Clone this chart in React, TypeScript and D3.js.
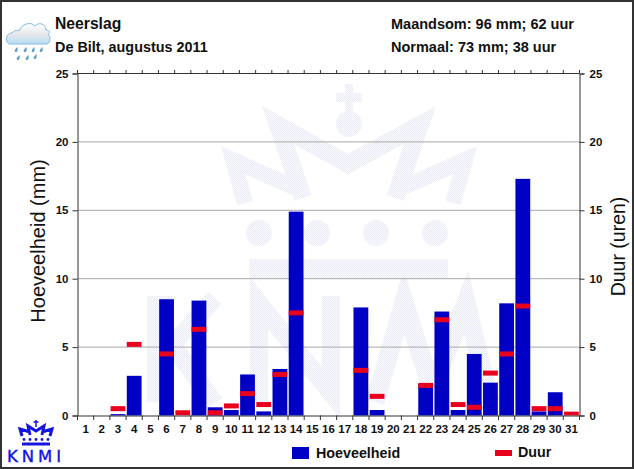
import React, { useEffect, useRef } from 'react';
import * as d3 from 'd3';

const days = d3.range(1, 32).map(String);
const hoeveelheid = [0, 0, 0.1, 2.9, 0, 8.5, 0, 8.4, 0.6, 0.4, 3.0, 0.3, 3.4, 14.9, 0, 0, 0, 7.9, 0.4, 0, 0, 2.3, 7.6, 0.4, 4.5, 2.4, 8.2, 17.3, 0.3, 1.7, 0];
const duur = [0, 0, 0.5, 5.2, 0, 4.5, 0.2, 6.3, 0.2, 0.7, 1.6, 0.8, 3.0, 7.5, 0, 0, 0, 3.3, 1.4, 0, 0, 2.2, 7.0, 0.8, 0.6, 3.1, 4.5, 8.0, 0.5, 0.5, 0.1];
const yTicks = [0, 5, 10, 15, 20, 25];

const FONT = "'Liberation Sans', Arial, sans-serif";
const BLUE = '#0000c4';
const RED = '#e8001c';
const LOGO = '#1414e0';

const Chart = () => {
  const svgRef = useRef<SVGSVGElement>(null);

  useEffect(() => {
    const svg = d3.select(svgRef.current);
    svg.selectAll('*').remove();

    const x = d3.scaleBand().domain(days).range([77.5, 579.5]);
    const y = d3.scaleLinear().domain([0, 25]).range([415.5, 73.5]);

    // frame
    svg.append('rect')
      .attr('x', 1).attr('y', 1).attr('width', 632).attr('height', 467)
      .attr('fill', '#fff').attr('stroke', '#333').attr('stroke-width', 2);

    // watermark
    const defs = svg.append('defs');
    const pat = defs.append('pattern')
      .attr('id', 'wm').attr('width', 2).attr('height', 2)
      .attr('patternUnits', 'userSpaceOnUse');
    pat.append('rect').attr('width', 2).attr('height', 2).attr('fill', '#f9f9fd');
    pat.append('rect').attr('width', 1).attr('height', 1).attr('fill', '#eaecf6');
    pat.append('rect').attr('x', 1).attr('y', 1).attr('width', 1).attr('height', 1).attr('fill', '#eaecf6');

    const wm = svg.append('g');
    const wmFill = 'url(#wm)';
    const thick = (d: string, w: number) =>
      wm.append('path').attr('d', d).attr('fill', 'none').attr('stroke', wmFill)
        .attr('stroke-width', w).attr('stroke-linejoin', 'miter');
    wm.append('rect').attr('x', 345).attr('y', 84).attr('width', 8).attr('height', 28).attr('fill', wmFill);
    wm.append('rect').attr('x', 336).attr('y', 93).attr('width', 26).attr('height', 9).attr('fill', wmFill);
    wm.append('circle').attr('cx', 349).attr('cy', 124).attr('r', 13).attr('fill', wmFill);
    thick('M303,198 L278,125 L348,164 L420,125 L395,198', 18);
    thick('M245,203 L233,160 L300,190', 16);
    thick('M453,203 L465,160 L397,190', 16);
    [259, 317, 376, 435].forEach(cx => {
      wm.append('circle').attr('cx', cx).attr('cy', 233).attr('r', 13).attr('fill', wmFill);
    });
    wm.append('rect').attr('x', 249).attr('y', 259).attr('width', 199).attr('height', 20).attr('fill', wmFill);
    thick('M160,296 L160,402', 26);
    thick('M215,298 L172,345 L215,403', 18);
    thick('M259,402 L259,303 L331,393 L331,296', 18);
    thick('M375,402 L404,302 L432,390 L466,302 L490,402', 19);
    thick('M523,296 L523,402', 16);

    // gridlines
    svg.append('g').selectAll('line')
      .data(yTicks.filter(d => d > 0 && d < 25))
      .join('line')
      .attr('x1', x.range()[0]).attr('x2', x.range()[1])
      .attr('y1', d => y(d)).attr('y2', d => y(d))
      .attr('stroke', '#a8a8a8').attr('stroke-width', 1);

    // bars
    svg.append('g').selectAll('rect')
      .data(hoeveelheid)
      .join('rect')
      .attr('x', (_, i) => x(days[i])! + 0.7)
      .attr('width', x.bandwidth() - 1.4)
      .attr('y', d => y(d))
      .attr('height', d => y(0) - y(d))
      .attr('fill', BLUE);

    // duur markers
    svg.append('g').selectAll('rect')
      .data(duur)
      .join('rect')
      .attr('x', (_, i) => x(days[i])! + 0.7)
      .attr('width', x.bandwidth() - 1.4)
      .attr('y', d => y(d) - 2.5)
      .attr('height', d => Math.min(5, y(0) - y(d) + 2.5))
      .attr('fill', RED)
      .attr('display', d => (d > 0 ? null : 'none'));

    // axes
    const left = svg.append('g').attr('transform', 'translate(77.5,0)')
      .call(d3.axisLeft(y).tickValues(yTicks).tickSize(5).tickPadding(4));
    const right = svg.append('g').attr('transform', 'translate(579.5,0)')
      .call(d3.axisRight(y).tickValues(yTicks).tickSize(5).tickPadding(5));
    const bottom = svg.append('g').attr('transform', 'translate(0,415.5)')
      .call(d3.axisBottom(x).tickSize(0).tickPadding(9));
    [left, right, bottom].forEach(g => {
      g.selectAll('text')
        .attr('font-family', FONT).attr('font-size', 11.5).attr('font-weight', 'bold')
        .attr('fill', '#111');
      g.select('.domain').attr('stroke', '#333');
      g.selectAll('.tick line').attr('stroke', '#333');
    });

    // day ticks along top and bottom, on the band edges
    const edges = days.map(d => x(d)!).concat(x.range()[1]);
    svg.append('g').selectAll('line').data(edges).join('line')
      .attr('x1', d => d).attr('x2', d => d)
      .attr('y1', 415.5).attr('y2', 420).attr('stroke', '#333');
    svg.append('g').selectAll('line').data(edges).join('line')
      .attr('x1', d => d).attr('x2', d => d)
      .attr('y1', 70).attr('y2', 73.5).attr('stroke', '#333');
    svg.append('line')
      .attr('x1', 77.5).attr('x2', 579.5).attr('y1', 73.5).attr('y2', 73.5)
      .attr('stroke', '#333');

    // header text
    const label = (t: string, tx: number, ty: number, size = 12.5) =>
      svg.append('text').attr('x', tx).attr('y', ty).text(t)
        .attr('font-family', FONT).attr('font-size', size).attr('font-weight', 'bold')
        .attr('fill', '#111');
    label('Neerslag', 55, 29, 15.7);
    label('De Bilt, augustus 2011', 55, 52, 14.4);
    label('Maandsom: 96 mm; 62 uur', 391, 28.5, 14.5);
    label('Normaal: 73 mm; 38 uur', 391, 52, 14.5);

    // axis titles
    svg.append('text').text('Hoeveelheid (mm)')
      .attr('transform', 'translate(45,241) rotate(-90)')
      .attr('text-anchor', 'middle')
      .attr('font-family', FONT).attr('font-size', 20).attr('fill', '#111');
    svg.append('text').text('Duur (uren)')
      .attr('transform', 'translate(625,246.5) rotate(-90)')
      .attr('text-anchor', 'middle')
      .attr('font-family', FONT).attr('font-size', 19.5).attr('fill', '#111');

    // legend
    svg.append('rect').attr('x', 292).attr('y', 447).attr('width', 17).attr('height', 12).attr('fill', BLUE);
    label('Hoeveelheid', 316, 458, 14.3);
    svg.append('rect').attr('x', 495).attr('y', 450).attr('width', 17).attr('height', 6).attr('fill', RED);
    label('Duur', 518, 457, 14.3);

    // rain cloud icon
    const grad = defs.append('linearGradient').attr('id', 'cloud')
      .attr('x1', 0).attr('x2', 0).attr('y1', 0).attr('y2', 1);
    grad.append('stop').attr('offset', '0%').attr('stop-color', '#fdfdfd');
    grad.append('stop').attr('offset', '55%').attr('stop-color', '#e4e7ea');
    grad.append('stop').attr('offset', '100%').attr('stop-color', '#b5def5');
    svg.append('path')
      .attr('d', 'M10,44 C5,44 5,33 12,33 C14,30 18,30 19,31 C21,24 31,21 35,26 C38,22 46,23 46,30 C50,30 51,33 48,34 C51,37 51,44 46,44 Z')
      .attr('fill', 'url(#cloud)').attr('stroke', '#86bbdc').attr('stroke-width', 1);
    [[16, 50], [25, 50], [33, 50], [41, 50], [18, 58], [27, 58], [35, 57]].forEach(([cx, cy]) => {
      svg.append('path')
        .attr('d', `M${cx + 1.5},${cy - 3} C${cx + 2},${cy} ${cx + 1.5},${cy + 2} ${cx},${cy + 2} C${cx - 2},${cy + 2} ${cx - 2},${cy} ${cx + 1.5},${cy - 3} Z`)
        .attr('fill', '#5f9fc6');
    });

    // KNMI logo
    const logo = svg.append('g').attr('fill', 'none').attr('stroke', LOGO);
    logo.append('path').attr('stroke-width', 3)
      .attr('d', 'M22,436 L20,429 L30,432 M30,435 L28,426 L36,431 L44,426 L42,435 M42,432 L52,429 L50,436');
    logo.append('path').attr('stroke-width', 1.5).attr('d', 'M36,420 L36,427 M33.5,422 L38.5,422');
    logo.append('path').attr('stroke-width', 3).attr('d', 'M22,444 L50,444');
    [24, 30, 36, 42, 48].forEach(cx => {
      svg.append('circle').attr('cx', cx).attr('cy', 439.5).attr('r', 1.4).attr('fill', LOGO);
    });
    svg.append('text').text('KNMI')
      .attr('x', 7).attr('y', 462)
      .attr('textLength', 54)
      .attr('font-family', "'DejaVu Sans', sans-serif").attr('font-size', 16.5)
      .attr('stroke', LOGO).attr('stroke-width', 0.4)
      .attr('fill', LOGO);
  }, []);

  return (
    <svg
      ref={svgRef}
      width={634}
      height={469}
      style={{ position: 'absolute', left: 0, top: 0 }}
    />
  );
};

const App = () => <Chart />;

export default App;
